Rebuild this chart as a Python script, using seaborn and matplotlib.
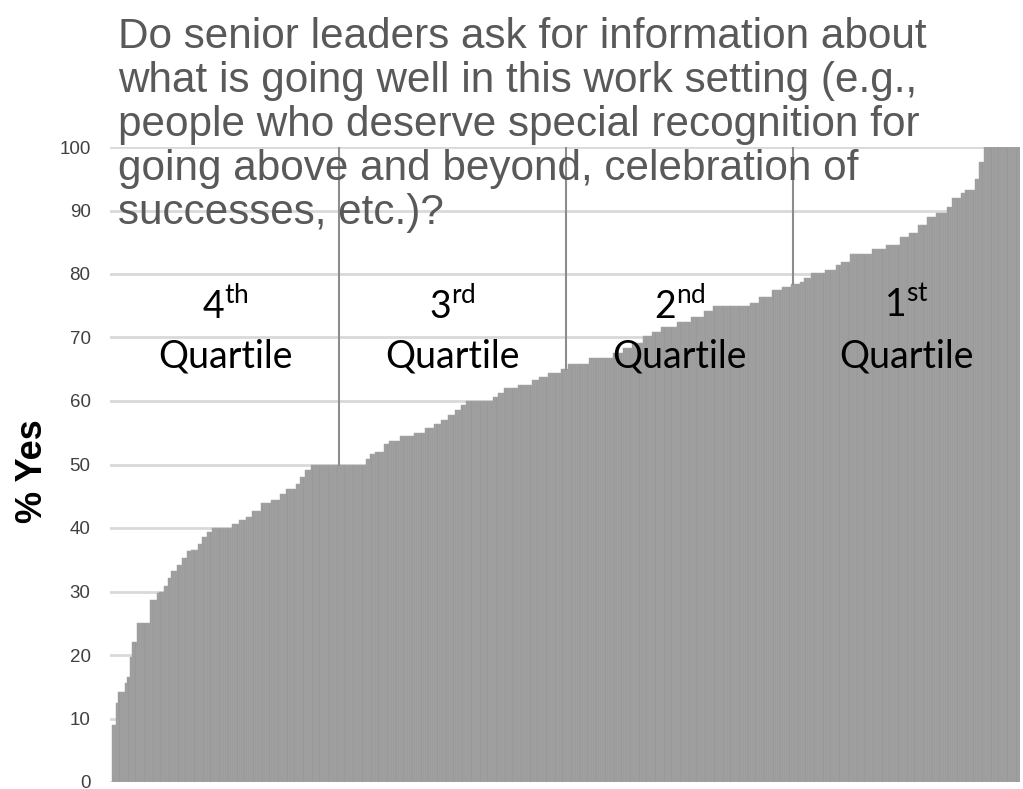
import matplotlib
matplotlib.use('Agg')
import matplotlib.pyplot as plt
import numpy as np
import pandas as pd
import seaborn as sns

# Sorted % Yes per work setting, stored as runs of (value, number of bars)
bar_values = [9.0, 12.4, 14.2, 15.6, 16.5, 19.7, 22.1, 25.0, 28.6, 29.7,
              30.0, 30.8, 32.1, 33.3, 34.2, 35.2, 36.3, 36.6, 37.5, 38.6,
              39.4, 40.0, 40.7, 41.2, 41.8, 42.6, 43.9, 44.4, 45.4, 46.1,
              46.9, 48.1, 49.1, 50.0, 50.8, 51.6, 52.0, 53.3, 53.7, 54.5,
              55.0, 55.8, 56.3, 57.0, 57.8, 58.6, 59.4, 60.0, 60.7, 61.2,
              62.0, 62.5, 63.3, 63.8, 64.4, 65.1, 65.8, 66.7, 67.5, 68.3,
              69.2, 70.2, 70.9, 71.7, 72.4, 73.2, 74.1, 75.0, 75.5, 76.3,
              77.5, 78.0, 78.5, 78.8, 79.3, 80.1, 80.6, 81.4, 81.9, 83.2,
              84.0, 84.6, 85.8, 86.5, 87.7, 88.9, 89.6, 90.6, 91.9, 92.7,
              93.3, 94.9, 97.7, 100.0]
bar_counts = [2, 1, 3, 1, 1, 1, 2, 6, 3, 1,
              2, 2, 1, 3, 2, 2, 2, 3, 2, 2,
              2, 9, 3, 3, 3, 4, 4, 4, 3, 4,
              2, 2, 3, 24, 2, 2, 4, 2, 5, 6,
              5, 4, 3, 3, 3, 3, 2, 12, 2, 3,
              6, 6, 3, 4, 6, 3, 9, 11, 4, 4,
              5, 4, 4, 7, 6, 6, 4, 16, 4, 6,
              4, 4, 4, 2, 3, 6, 5, 2, 4, 10,
              6, 6, 4, 4, 4, 4, 5, 2, 4, 2,
              4, 2, 2, 16]

quartile_tops = [50.0, 65.1, 78.5]
quartile_names = ['4', '3', '2', '1']
quartile_sups = ['th', 'rd', 'nd', 'st']

title = ('Do senior leaders ask for information about\n'
         'what is going well in this work setting (e.g.,\n'
         'people who deserve special recognition for\n'
         'going above and beyond, celebration of\n'
         'successes, etc.)?')

df = pd.DataFrame({'pct': np.repeat(bar_values, bar_counts)})
df['rank'] = np.arange(len(df))
n = len(df)
q = n // 4

plt.rcParams['mathtext.fontset'] = 'custom'
plt.rcParams['mathtext.rm'] = 'Lato'

fig = plt.figure(figsize=(10.23, 7.89), dpi=100)
ax = fig.add_axes([110 / 1023, 7 / 789, 910 / 1023, 635 / 789])

ax.set_axisbelow(True)
ax.yaxis.grid(True, color='#d9d9d9', linewidth=2)
sns.barplot(data=df, x='rank', y='pct', color='#999999', saturation=1,
            width=1.0, edgecolor='#ababab', linewidth=0.35, native_scale=True,
            ax=ax)
ax.set_xlim(-1.2, n - 0.5)
ax.set_ylim(0, 100)
ax.set_yticks(range(0, 101, 10))
ax.set_xticks([])
ax.set_xlabel('')
ax.set_ylabel('')
ax.tick_params(axis='y', length=0, pad=14, labelsize=13.5, labelcolor='#404040')
for lab in ax.get_yticklabels():
    lab.set_family('Liberation Sans')
for s in ax.spines.values():
    s.set_visible(False)

# quartile boundaries
for i, top in enumerate(quartile_tops):
    xb = (i + 1) * q - 0.5
    ax.plot([xb, xb], [top, 100], color='#8c8c8c', linewidth=1.5, zorder=3)

for i in range(4):
    xc = i * q + q / 2 - 0.5
    ax.text(xc, 75.1, quartile_names[i] + r'$^{\mathrm{' + quartile_sups[i] + '}}$',
            ha='center', va='center', fontsize=27, family='Lato', color='black',
            zorder=4)
    ax.text(xc, 67.0, 'Quartile', ha='center', va='center', fontsize=27,
            family='Lato', color='black', zorder=4)

fig.text(32 / 1023, 1 - 471 / 789, '% Yes', rotation=90, ha='center',
         va='center', fontsize=26, fontweight='bold', family='Liberation Sans')

fig.text(118 / 1023, 1 - 17 / 789, title, ha='left', va='top', fontsize=30.4,
         family='Liberation Sans', color='#595959', linespacing=1.13, zorder=5)

fig.savefig('out.png', dpi=100)
